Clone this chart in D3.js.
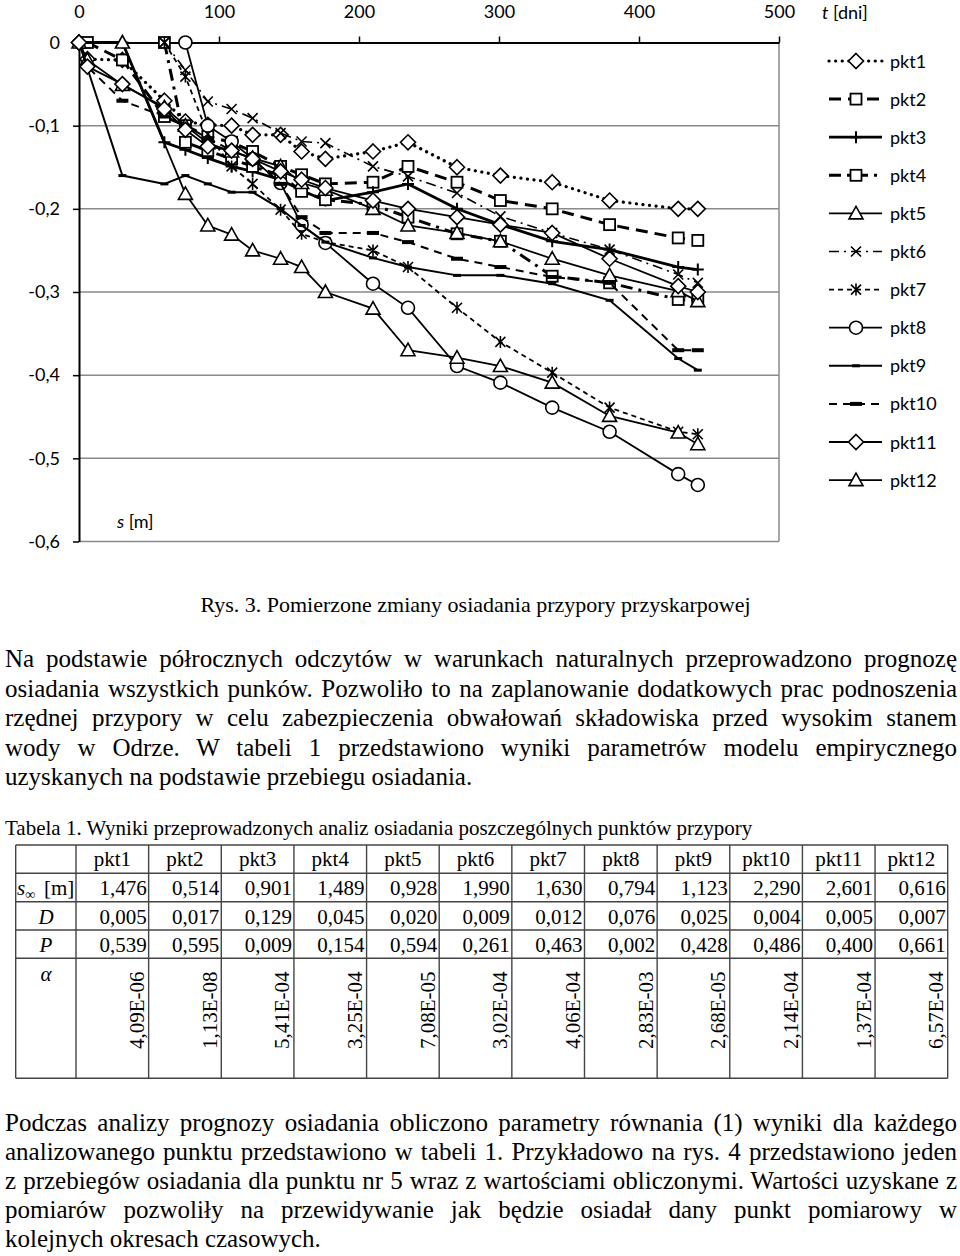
<!DOCTYPE html>
<html><head><meta charset="utf-8">
<script src="https://cdn.jsdelivr.net/npm/d3@7"></script>
<style>body{margin:0;background:#fff}svg{display:block}</style>
</head><body><script>
// ---------- data ----------
const days = [0, 6, 31, 61, 76, 92, 109, 124, 144, 159, 176, 210, 235, 270, 301, 338, 379, 428, 442];
const pkt1  = [0, -0.02, -0.021, -0.07, -0.095, -0.099, -0.10, -0.111, -0.111, -0.131, -0.14, -0.131, -0.12, -0.15, -0.16, -0.168, -0.19, -0.20, -0.20];
const pkt2  = [null, 0, -0.021, -0.089, -0.10, -0.113, -0.12, -0.131, -0.149, -0.159, -0.17, -0.168, -0.149, -0.168, -0.19, -0.20, -0.219, -0.235, -0.238];
const pkt3  = [0, null, 0, -0.12, -0.129, -0.139, -0.149, -0.155, -0.165, -0.178, -0.19, -0.18, -0.17, -0.20, -0.219, -0.239, -0.249, -0.27, -0.273];
const pkt4  = [null, null, null, 0, -0.12, -0.13, -0.14, -0.149, -0.16, -0.179, -0.189, -0.195, -0.21, -0.23, -0.239, -0.281, -0.289, -0.309, -0.31];
const pkt5  = [0, -0.021, -0.051, -0.078, -0.10, -0.121, -0.131, -0.139, -0.149, -0.169, -0.177, -0.20, -0.22, -0.229, -0.239, -0.26, -0.28, -0.299, -0.311];
const pkt6  = [null, null, null, 0, -0.033, -0.071, -0.08, -0.091, -0.109, -0.119, -0.121, -0.149, -0.161, -0.181, -0.209, -0.229, -0.249, -0.279, -0.289];
const pkt7  = [null, null, null, 0, -0.041, -0.11, -0.149, -0.17, -0.201, -0.23, -0.24, -0.25, -0.27, -0.319, -0.36, -0.397, -0.439, -0.468, -0.471];
const pkt8  = [null, null, null, null, 0, -0.10, -0.119, -0.14, -0.169, -0.219, -0.241, -0.29, -0.319, -0.389, -0.409, -0.439, -0.468, -0.519, -0.532];
const pkt9  = [0, null, -0.16, -0.17, -0.16, -0.17, -0.18, -0.18, -0.20, -0.22, -0.24, -0.259, -0.27, -0.28, -0.28, -0.29, -0.31, -0.38, -0.394];
const pkt10 = [0, -0.029, -0.07, -0.089, -0.10, -0.115, -0.13, -0.14, -0.17, -0.21, -0.229, -0.229, -0.24, -0.26, -0.27, -0.282, -0.289, -0.37, -0.37];
const pkt11 = [0, -0.029, -0.05, -0.08, -0.105, -0.125, -0.13, -0.14, -0.155, -0.165, -0.175, -0.19, -0.20, -0.21, -0.219, -0.229, -0.26, -0.293, -0.30];
const pkt12 = [null, null, 0, null, -0.182, -0.22, -0.231, -0.25, -0.26, -0.27, -0.30, -0.32, -0.37, -0.379, -0.389, -0.409, -0.449, -0.469, -0.483];
const seriesNames = ["pkt1","pkt2","pkt3","pkt4","pkt5","pkt6","pkt7","pkt8","pkt9","pkt10","pkt11","pkt12"];
const seriesValues = [pkt1,pkt2,pkt3,pkt4,pkt5,pkt6,pkt7,pkt8,pkt9,pkt10,pkt11,pkt12];
const xTicks = [0, 100, 200, 300, 400, 500];
const yTicks = [0, -0.1, -0.2, -0.3, -0.4, -0.5, -0.6];
const yTickLabels = ["0", "-0,1", "-0,2", "-0,3", "-0,4", "-0,5", "-0,6"];

const tableCols = ["pkt1","pkt2","pkt3","pkt4","pkt5","pkt6","pkt7","pkt8","pkt9","pkt10","pkt11","pkt12"];
const sInfVals = ["1,476","0,514","0,901","1,489","0,928","1,990","1,630","0,794","1,123","2,290","2,601","0,616"];
const dVals = ["0,005","0,017","0,129","0,045","0,020","0,009","0,012","0,076","0,025","0,004","0,005","0,007"];
const pVals = ["0,539","0,595","0,009","0,154","0,594","0,261","0,463","0,002","0,428","0,486","0,400","0,661"];
const alphaVals = ["4,09E-06","1,13E-08","5,41E-04","3,25E-04","7,08E-05","3,02E-04","4,06E-04","2,83E-03","2,68E-05","2,14E-04","1,37E-04","6,57E-04"];

const captionText = "Rys. 3. Pomierzone zmiany osiadania przypory przyskarpowej";
const para1 = [
 "Na podstawie półrocznych odczytów w warunkach naturalnych przeprowadzono prognozę",
 "osiadania wszystkich punków. Pozwoliło to na zaplanowanie dodatkowych prac podnoszenia",
 "rzędnej przypory w celu zabezpieczenia obwałowań składowiska przed wysokim stanem",
 "wody w Odrze. W tabeli 1 przedstawiono wyniki parametrów modelu empirycznego",
 "uzyskanych na podstawie przebiegu osiadania."];
const tableCaption = "Tabela 1. Wyniki przeprowadzonych analiz osiadania poszczególnych punktów przypory";
const para2 = [
 "Podczas analizy prognozy osiadania obliczono parametry równania (1) wyniki dla każdego",
 "analizowanego punktu przedstawiono w tabeli 1. Przykładowo na rys. 4 przedstawiono jeden",
 "z przebiegów osiadania dla punktu nr 5 wraz z wartościami obliczonymi. Wartości uzyskane z",
 "pomiarów pozwoliły na przewidywanie jak będzie osiadał dany punkt pomiarowy w",
 "kolejnych okresach czasowych."];

// ---------- styles ----------
const styles = {
 pkt1:{w:3.2,dash:"0.1,6.5",cap:"round",m:"diamond"},
 pkt2:{w:3,dash:"12,7",cap:"butt",m:"square"},
 pkt3:{w:2.8,dash:null,cap:"butt",m:"plus"},
 pkt4:{w:3,dash:"12,6,3,6",cap:"butt",m:"square"},
 pkt5:{w:1.8,dash:null,cap:"butt",m:"triangle"},
 pkt6:{w:1.6,dash:"10,5,2,5",cap:"butt",m:"x"},
 pkt7:{w:1.8,dash:"5,4",cap:"butt",m:"star"},
 pkt8:{w:1.8,dash:null,cap:"butt",m:"circle"},
 pkt9:{w:2,dash:null,cap:"butt",m:"bar"},
 pkt10:{w:2,dash:"8,6",cap:"butt",m:"bar2"},
 pkt11:{w:1.8,dash:null,cap:"butt",m:"diamond"},
 pkt12:{w:1.8,dash:null,cap:"butt",m:"triangle"}
};

const W = 960, H = 1256;
const svg = d3.select("body").append("svg").attr("width", W).attr("height", H);
const chartFont = "Lato, 'Open Sans', sans-serif";
const serif = "'Liberation Serif', 'Times New Roman', serif";

const x = d3.scaleLinear().domain([0, 500]).range([79, 779]);
const y = d3.scaleLinear().domain([0, -0.6]).range([42.5, 541.5]);

// grid
svg.append("g").selectAll("line").data(yTicks.slice(1)).join("line")
  .attr("x1", x(0)).attr("x2", x(500)).attr("y1", d => y(d)).attr("y2", d => y(d))
  .attr("stroke", "#8a8a8a").attr("stroke-width", 1.5);
svg.append("line").attr("x1", x(500)).attr("x2", x(500)).attr("y1", y(0)).attr("y2", y(-0.6))
  .attr("stroke", "#8a8a8a").attr("stroke-width", 1.5);

// axes
const axT = svg.append("g").attr("transform", `translate(0,${y(0)})`)
  .call(d3.axisTop(x).tickValues(xTicks).tickSize(6).tickSizeOuter(0).tickFormat(d3.format("d")));
axT.select(".domain").attr("stroke", "#000").attr("stroke-width", 2);
axT.selectAll(".tick line").attr("stroke", "#000").attr("stroke-width", 1.5);
axT.selectAll(".tick text").attr("y", -25).attr("dy", "0").style("font-family", chartFont).style("font-size", "18px").attr("fill", "#000");

const axL = svg.append("g").attr("transform", `translate(${x(0)},0)`)
  .call(d3.axisLeft(y).tickValues(yTicks).tickSize(6).tickSizeOuter(0).tickPadding(13).tickFormat((d, i) => yTickLabels[i]));
axL.select(".domain").attr("stroke", "#000").attr("stroke-width", 2);
axL.selectAll(".tick line").attr("stroke", "#000").attr("stroke-width", 1.5);
axL.selectAll(".tick text").style("font-family", chartFont).style("font-size", "18px").attr("fill", "#000");

// axis titles
const tt = svg.append("text").attr("x", 822).attr("y", 19).style("font-family", chartFont).style("font-size", "18px");
tt.append("tspan").style("font-style", "italic").text("t");
tt.append("tspan").text(" [dni]");
const st = svg.append("text").attr("x", 117).attr("y", 528).style("font-family", chartFont).style("font-size", "18px");
st.append("tspan").style("font-style", "italic").text("s");
st.append("tspan").text(" [m]");

// markers
function marker(g, type, cx, cy) {
  const m = g.append("g").attr("transform", `translate(${cx},${cy})`);
  const sw = 1.6;
  switch (type) {
    case "diamond": m.append("path").attr("d", "M0,-7.5L7.5,0L0,7.5L-7.5,0Z").attr("fill", "#fff").attr("stroke", "#000").attr("stroke-width", sw); break;
    case "square": m.append("rect").attr("x", -5.5).attr("y", -5.5).attr("width", 11).attr("height", 11).attr("fill", "#fff").attr("stroke", "#000").attr("stroke-width", 1.8); break;
    case "plus": m.append("path").attr("d", "M-6,0H6M0,-6V6").attr("stroke", "#000").attr("stroke-width", 2); break;
    case "triangle": m.append("path").attr("d", "M0,-7L7,5.5L-7,5.5Z").attr("fill", "#fff").attr("stroke", "#000").attr("stroke-width", sw); break;
    case "x": m.append("path").attr("d", "M-5,-5L5,5M-5,5L5,-5").attr("stroke", "#000").attr("stroke-width", 1.6); break;
    case "star": m.append("path").attr("d", "M-5,-5L5,5M-5,5L5,-5M0,-6V6").attr("stroke", "#000").attr("stroke-width", 1.6); break;
    case "circle": m.append("circle").attr("r", 6.5).attr("fill", "#fff").attr("stroke", "#000").attr("stroke-width", sw); break;
    case "bar": m.append("rect").attr("x", -4).attr("y", -1.5).attr("width", 8).attr("height", 3).attr("fill", "#000"); break;
    case "bar2": m.append("rect").attr("x", -6).attr("y", -2).attr("width", 12).attr("height", 4).attr("fill", "#000"); break;
  }
}

// series
const lineGen = d3.line().x(d => x(d.t)).y(d => y(d.v));
seriesNames.forEach((name, i) => {
  const st = styles[name];
  const pts = days.map((t, j) => ({ t, v: seriesValues[i][j] })).filter(p => p.v !== null);
  const g = svg.append("g");
  g.append("path").attr("d", lineGen(pts)).attr("fill", "none").attr("stroke", "#000")
    .attr("stroke-width", st.w).attr("stroke-dasharray", st.dash).attr("stroke-linecap", st.cap);
  pts.forEach(p => marker(g, st.m, x(p.t), y(p.v)));
});

// legend
seriesNames.forEach((name, i) => {
  const st = styles[name];
  const ly = 61 + i * 38.1;
  const g = svg.append("g");
  g.append("line").attr("x1", 829).attr("x2", 882).attr("y1", ly).attr("y2", ly).attr("stroke", "#000")
    .attr("stroke-width", st.w).attr("stroke-dasharray", st.dash).attr("stroke-linecap", st.cap);
  marker(g, st.m, 856, ly);
  g.append("text").attr("x", 890).attr("y", ly + 6.5).style("font-family", chartFont).style("font-size", "18px").text(name);
});

// ---------- text ----------
svg.append("text").attr("x", 475.5).attr("y", 612).attr("text-anchor", "middle")
  .style("font-family", serif).style("font-size", "22px").text(captionText);

function paragraph(lines, x0, x1, y0, dy, size) {
  lines.forEach((line, i) => {
    const t = svg.append("text").attr("x", x0).attr("y", y0 + i * dy)
      .style("font-family", serif).style("font-size", size + "px").text(line);
    if (i < lines.length - 1) {
      const w = t.node().getComputedTextLength();
      const n = (line.match(/ /g) || []).length;
      if (n > 0) t.style("word-spacing", ((x1 - x0 - w) / n) + "px");
    }
  });
}
paragraph(para1, 5, 957, 667, 29.5, 25);
svg.append("text").attr("x", 5).attr("y", 835).style("font-family", serif).style("font-size", "21px").text(tableCaption);
paragraph(para2, 5, 957, 1131, 29, 25);

// ---------- table ----------
const tL = 15.7, tC = 76, tR = 947.7;
const colW = (tR - tC) / tableCols.length;
const rowY = [845, 873.3, 901.7, 930, 958.3, 1078.3];
const tg = svg.append("g");
const bc = "#444";
rowY.forEach(yy => tg.append("line").attr("x1", tL).attr("x2", tR).attr("y1", yy).attr("y2", yy).attr("stroke", bc).attr("stroke-width", 1.4));
const colX = [tL, tC].concat(tableCols.map((c, i) => tC + (i + 1) * colW));
colX.forEach(xx => tg.append("line").attr("x1", xx).attr("x2", xx).attr("y1", rowY[0]).attr("y2", rowY[5]).attr("stroke", bc).attr("stroke-width", 1.4));

const tf = s => s.style("font-family", serif).style("font-size", "21px");
tableCols.forEach((c, i) => {
  const cx = tC + (i + 0.5) * colW, xr = tC + (i + 1) * colW - 2;
  tf(tg.append("text").attr("x", cx).attr("y", 866).attr("text-anchor", "middle").text(c));
  tf(tg.append("text").attr("x", xr).attr("y", 895).attr("text-anchor", "end").text(sInfVals[i]));
  tf(tg.append("text").attr("x", xr).attr("y", 923.5).attr("text-anchor", "end").text(dVals[i]));
  tf(tg.append("text").attr("x", xr).attr("y", 952).attr("text-anchor", "end").text(pVals[i]));
  tf(tg.append("text").attr("transform", `translate(${xr - 2.5},1049) rotate(-90)`).attr("text-anchor", "start").text(alphaVals[i]));
});
const sl = tf(tg.append("text").attr("x", 17).attr("y", 895));
sl.append("tspan").style("font-style", "italic").text("s");
sl.append("tspan").attr("dy", 4).style("font-size", "14px").text("∞");
sl.append("tspan").attr("x", 44).attr("dy", -4).text("[m]");
tf(tg.append("text").attr("x", 46).attr("y", 923.5).attr("text-anchor", "middle").style("font-style", "italic").text("D"));
tf(tg.append("text").attr("x", 46).attr("y", 952).attr("text-anchor", "middle").style("font-style", "italic").text("P"));
tf(tg.append("text").attr("x", 46).attr("y", 981).attr("text-anchor", "middle").style("font-style", "italic").text("α"));
</script></body></html>
